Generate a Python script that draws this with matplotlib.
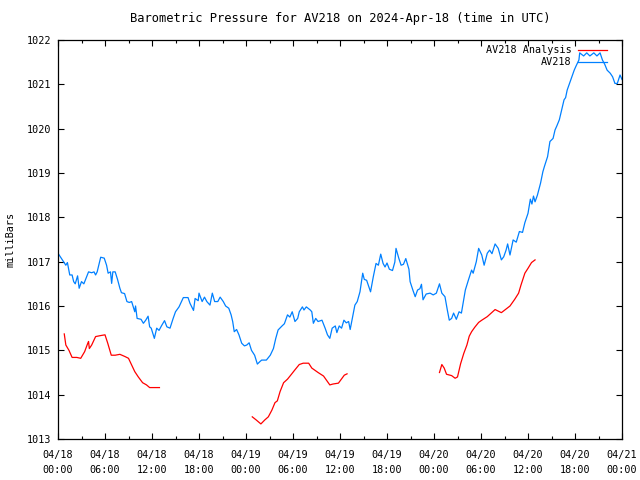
import numpy as np
import pandas as pd
import matplotlib
matplotlib.use("Agg")
import matplotlib.pyplot as plt
import matplotlib.dates as mdates

# ------------------------------------------------------------
# data (hours since 2024-04-18 00:00 UTC, pressure in mbar)
# ------------------------------------------------------------

START = pd.Timestamp("2024-04-18 00:00")

obs_hours = [
    0.0, 0.7, 1.0, 1.2, 1.5, 1.8, 2.0, 2.2, 2.5, 2.7, 3.0, 3.3, 3.9, 4.3, 4.6,
    4.8, 5.0, 5.45, 5.9, 6.2, 6.4, 6.7, 6.85, 7.0, 7.3, 7.6, 7.9, 8.1, 8.5, 8.8,
    9.1, 9.4, 9.8, 9.9, 10.1, 10.6, 10.9, 11.2, 11.5, 11.7, 11.9, 12.3, 12.6,
    12.9, 13.2, 13.6, 13.9, 14.3, 14.7, 15.0, 15.45, 16.0, 16.6, 16.85, 17.3,
    17.5, 17.9, 18.0, 18.4, 18.7, 19.0, 19.4, 19.7, 20.0, 20.4, 20.7, 21.1,
    21.4, 21.8, 22.1, 22.3, 22.5, 22.8, 23.1, 23.45, 23.8, 24.1, 24.4, 24.7,
    25.1, 25.45, 25.8, 26.0, 26.6, 27.1, 27.5, 27.8, 28.1, 28.6, 28.9, 29.3,
    29.6, 29.9, 30.25, 30.6, 30.8, 31.2, 31.4, 31.7, 32.2, 32.4, 32.6, 32.9,
    33.2, 33.7, 34.1, 34.4, 34.7, 35.0, 35.4, 35.6, 35.9, 36.2, 36.5, 36.8,
    37.1, 37.3, 37.6, 37.9, 38.2, 38.55, 38.9, 39.1, 39.4, 39.9, 40.25, 40.6,
    40.9, 41.2, 41.5, 41.75, 42.0, 42.3, 42.7, 43.0, 43.15, 43.5, 43.8, 44.1,
    44.4, 44.8, 44.95, 45.3, 45.6, 45.9, 46.2, 46.4, 46.6, 47.0, 47.5, 47.9,
    48.3, 48.7, 49.0, 49.4, 49.7, 49.95, 50.25, 50.5, 50.85, 51.2, 51.5,
    51.75, 52.0, 52.4, 52.8, 53.0, 53.4, 53.7, 54.1, 54.4, 54.8, 55.1, 55.4,
    55.8, 56.2, 56.6, 56.9, 57.2, 57.4, 57.7, 58.1, 58.5, 58.9, 59.3, 59.6,
    60.0, 60.3, 60.5, 60.7, 60.9, 61.2, 61.6, 61.9, 62.1, 62.5, 62.8, 63.2,
    63.45, 63.7, 64.0, 64.3, 64.6, 64.8, 65.0, 65.3, 65.6, 65.9, 66.1, 66.5,
    66.6, 67.1, 67.5, 67.9, 68.4, 68.8, 69.2, 69.5, 69.8, 70.1, 70.5, 70.8,
    71.1, 71.4, 71.75, 72.0,
]
obs_mbar = [
    1017.19, 1017.00, 1016.92, 1016.98, 1016.70, 1016.70, 1016.55, 1016.50,
    1016.68, 1016.40, 1016.55, 1016.50, 1016.77, 1016.75, 1016.77, 1016.70,
    1016.77, 1017.10, 1017.08, 1016.92, 1016.74, 1016.77, 1016.51, 1016.77,
    1016.77, 1016.60, 1016.40, 1016.30, 1016.28, 1016.10, 1016.08, 1016.10,
    1015.87, 1016.00, 1015.72, 1015.70, 1015.61, 1015.68, 1015.77, 1015.53,
    1015.50, 1015.27, 1015.50, 1015.45, 1015.55, 1015.67, 1015.53, 1015.50,
    1015.72, 1015.87, 1015.98, 1016.19, 1016.19, 1016.06, 1015.90, 1016.17,
    1016.12, 1016.29, 1016.10, 1016.20, 1016.10, 1016.02, 1016.29, 1016.10,
    1016.10, 1016.20, 1016.10, 1016.00, 1015.95, 1015.80, 1015.65, 1015.42,
    1015.47, 1015.35, 1015.16, 1015.10, 1015.12, 1015.17, 1015.00, 1014.89,
    1014.69, 1014.75, 1014.78, 1014.78, 1014.89, 1015.04, 1015.27, 1015.46,
    1015.55, 1015.60, 1015.80, 1015.75, 1015.87, 1015.65, 1015.72, 1015.87,
    1015.98, 1015.91, 1015.98, 1015.91, 1015.87, 1015.61, 1015.72, 1015.65,
    1015.68, 1015.50, 1015.35, 1015.27, 1015.50, 1015.55, 1015.40, 1015.55,
    1015.50, 1015.68, 1015.62, 1015.65, 1015.47, 1015.74, 1016.02, 1016.10,
    1016.32, 1016.74, 1016.60, 1016.58, 1016.32, 1016.66, 1016.96, 1016.92,
    1017.17, 1016.96, 1016.88, 1016.97, 1016.83, 1016.80, 1016.99, 1017.30,
    1017.08, 1016.92, 1016.94, 1017.07, 1016.83, 1016.55, 1016.36, 1016.21,
    1016.36, 1016.39, 1016.49, 1016.14, 1016.27, 1016.29, 1016.25, 1016.29,
    1016.50, 1016.29, 1016.21, 1015.91, 1015.68, 1015.72, 1015.84, 1015.70,
    1015.87, 1015.84, 1016.10, 1016.36, 1016.59, 1016.81, 1016.74, 1017.00,
    1017.30, 1017.15, 1016.92, 1017.19, 1017.26, 1017.18, 1017.40, 1017.30,
    1017.04, 1017.11, 1017.26, 1017.40, 1017.15, 1017.49, 1017.44, 1017.68,
    1017.66, 1017.88, 1018.09, 1018.41, 1018.30, 1018.48, 1018.35, 1018.50,
    1018.77, 1019.03, 1019.15, 1019.37, 1019.71, 1019.78, 1019.97, 1020.07,
    1020.20, 1020.42, 1020.65, 1020.70, 1020.87, 1021.02, 1021.17, 1021.32,
    1021.40, 1021.55, 1021.71, 1021.64, 1021.71, 1021.64, 1021.71, 1021.64,
    1021.71, 1021.55, 1021.45, 1021.32, 1021.25, 1021.17, 1021.02, 1021.02,
    1021.21, 1021.11,
]

# analysis runs (three separate segments)
ana1_hours = [0.8, 1.0, 1.4, 1.8, 2.4, 2.9, 3.4, 3.8, 3.9, 4.0, 4.3, 4.8, 5.35,
              6.0, 6.35, 6.8, 7.3, 7.9, 8.55, 9.0, 9.4, 9.8, 10.25, 10.8,
              11.3, 11.7, 12.95]
ana1_mbar = [1015.37, 1015.12, 1015.00, 1014.84, 1014.84, 1014.82, 1014.97,
             1015.16, 1015.20, 1015.04, 1015.12, 1015.31, 1015.33, 1015.35,
             1015.16, 1014.89, 1014.89, 1014.91, 1014.86, 1014.82, 1014.67,
             1014.52, 1014.40, 1014.27, 1014.22, 1014.16, 1014.16]

ana2_hours = [24.8, 25.3, 25.9, 26.4, 26.85, 27.3, 27.7, 28.0, 28.35, 28.8,
              29.3, 29.8, 30.2, 30.8, 31.3, 32.0, 32.4, 32.8, 33.2, 33.9,
              34.3, 34.7, 35.1, 35.8, 36.55, 36.9]
ana2_mbar = [1013.50, 1013.43, 1013.34, 1013.43, 1013.50, 1013.65, 1013.82,
             1013.86, 1014.07, 1014.27, 1014.35, 1014.46, 1014.55, 1014.68,
             1014.71, 1014.71, 1014.60, 1014.55, 1014.50, 1014.42, 1014.32,
             1014.22, 1014.24, 1014.26, 1014.44, 1014.47]

ana3_hours = [48.7, 49.0, 49.3, 49.6, 50.25, 50.7, 51.0, 51.4, 51.8, 52.2,
              52.5, 52.8, 53.2, 53.7, 54.1, 54.8, 55.8, 56.6, 57.7, 58.3,
              58.8, 59.1, 59.6, 60.0, 60.45, 60.9]
ana3_mbar = [1014.50, 1014.68, 1014.60, 1014.46, 1014.43, 1014.37, 1014.40,
             1014.70, 1014.93, 1015.12, 1015.32, 1015.42, 1015.52, 1015.63,
             1015.68, 1015.76, 1015.92, 1015.85, 1016.00, 1016.15, 1016.29,
             1016.47, 1016.74, 1016.85, 1016.98, 1017.04]

Y_MIN, Y_MAX = 1013, 1022


def to_time(hours):
    return START + pd.to_timedelta(hours, unit="h")


# ------------------------------------------------------------
# plot
# ------------------------------------------------------------

plt.rcParams["font.family"] = ["DejaVu Sans Mono", "Liberation Mono"]
plt.rcParams["font.size"] = 7.3

fig = plt.figure(figsize=(6.4, 4.8), dpi=100)
ax = fig.add_axes([58 / 640, 1 - 439 / 480, 564 / 640, 399 / 480])

RED = "#ff0000"
BLUE = "#0080ff"

ax.plot(to_time(ana1_hours), ana1_mbar, color=RED, lw=0.9, label="AV218 Analysis")
ax.plot(to_time(ana2_hours), ana2_mbar, color=RED, lw=0.9)
ax.plot(to_time(ana3_hours), ana3_mbar, color=RED, lw=0.9)
ax.plot(to_time(obs_hours), obs_mbar, color=BLUE, lw=0.9, label="AV218")

ax.set_xlim(START, START + pd.Timedelta(hours=72))
ax.set_ylim(Y_MIN, Y_MAX)
ax.set_yticks(range(Y_MIN, Y_MAX + 1))

ax.xaxis.set_major_locator(mdates.HourLocator(byhour=[0, 6, 12, 18]))
ax.xaxis.set_minor_locator(mdates.HourLocator(byhour=[3, 9, 15, 21]))
ax.xaxis.set_major_formatter(mdates.DateFormatter("%m/%d\n%H:%M"))

ax.tick_params(which="both", direction="in", top=True, right=True, width=0.8)
ax.tick_params(which="major", length=4)
ax.tick_params(which="minor", length=2)
ax.tick_params(axis="x", pad=8)
ax.tick_params(axis="y", pad=5)
for sp in ax.spines.values():
    sp.set_linewidth(0.9)

ax.set_ylabel("milliBars", labelpad=8)
ax.set_title("Barometric Pressure for AV218 on 2024-Apr-18 (time in UTC)", pad=13)

ax.legend(loc="upper right", frameon=False, markerfirst=False,
          handlelength=2.9, handletextpad=0.6, labelspacing=0.2,
          borderaxespad=0.2, borderpad=0.3, fontsize=7.3,
          bbox_to_anchor=(1 - 10 / 564, 1.0))

fig.canvas.draw()
for lbl in ax.get_xticklabels():
    lbl.set_linespacing(1.55)

fig.savefig("out.png", dpi=100)
